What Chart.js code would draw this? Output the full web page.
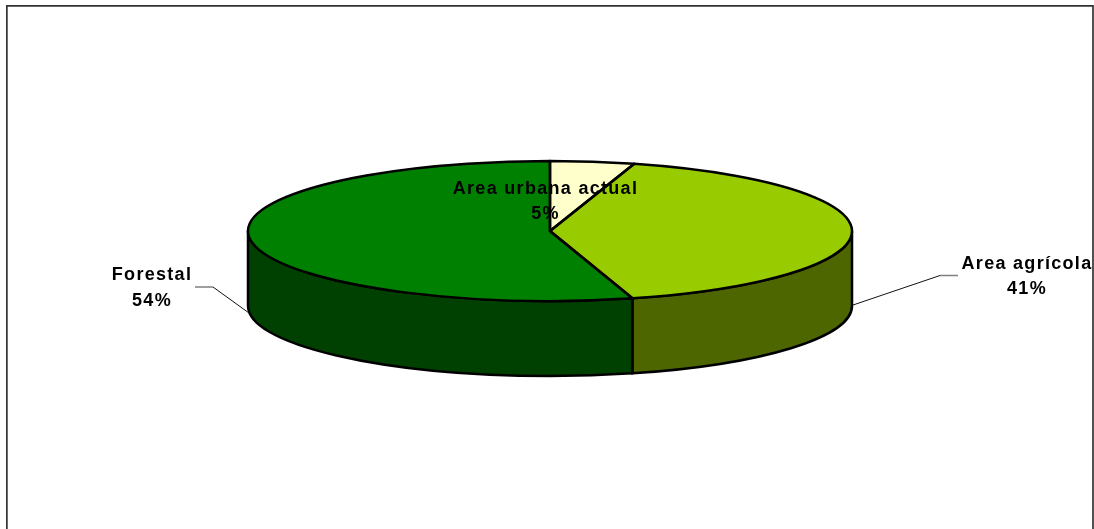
<!DOCTYPE html>
<html>
<head>
<meta charset="utf-8">
<title>Uso del suelo</title>
<style>
  html, body { margin: 0; padding: 0; background: #fff; overflow: hidden; }
  canvas { display: block; }
</style>
<script src="https://cdn.jsdelivr.net/npm/chart.js@4/dist/chart.umd.min.js"></script>
</head>
<body>
<canvas id="chartUso" width="1094" height="529"></canvas>
<script>
// Datos
const categories = ['Area urbana actual', 'Area agrícola', 'Forestal'];
const values = [4.5, 41.1, 54.4];

const topColors = ['#FFFFCC', '#99CC00', '#008000'];
const sideColors = ['#808066', '#4D6600', '#004000'];

const SQUASH = 70 / 302; // alto/ancho de la elipse
const DEPTH = 75;
const FONT = 'bold 18px "Liberation Sans", Arial, sans-serif';

function outlineTop(ctx, arc) {
    const ry = arc.outerRadius * SQUASH;
    ctx.beginPath();
    ctx.moveTo(arc.x, arc.y);
    ctx.ellipse(arc.x, arc.y, arc.outerRadius, ry, 0, arc.startAngle, arc.endAngle);
    ctx.closePath();
    ctx.stroke();
}

// Parte frontal del cilindro, a partir de los angulos de cada arco
function drawWall(ctx, arc, color) {
    const a = Math.max(arc.startAngle, 0);
    const b = Math.min(arc.endAngle, Math.PI);
    if (b <= a) return;
    const ry = arc.outerRadius * SQUASH;
    ctx.beginPath();
    ctx.ellipse(arc.x, arc.y, arc.outerRadius, ry, 0, a, b);
    ctx.ellipse(arc.x, arc.y + DEPTH, arc.outerRadius, ry, 0, b, a, true);
    ctx.closePath();
    ctx.fillStyle = color;
    ctx.fill();
    ctx.stroke();
}

function label(ctx, text, x, y) {
    ctx.fillText(text, x, y);
}

const pie3d = {
    id: 'pie3d',
    beforeDraw(chart) {
        const ctx = chart.ctx;
        // marco del grafico (sin borde inferior)
        ctx.save();
        ctx.strokeStyle = '#333';
        ctx.lineWidth = 1.7;
        ctx.beginPath();
        ctx.moveTo(6.85, 529);
        ctx.lineTo(6.85, 5.85);
        ctx.lineTo(1093, 5.85);
        ctx.lineTo(1093, 529);
        ctx.stroke();
        ctx.restore();
    },
    beforeDatasetsDraw(chart) {
        const ctx = chart.ctx;
        const arcs = chart.getDatasetMeta(0).data;
        ctx.save();
        ctx.strokeStyle = '#000';
        ctx.lineWidth = 2.5;
        arcs.forEach((arc, i) => drawWall(ctx, arc, sideColors[i]));
        ctx.restore();
        // aplasta el pastel en una elipse
        ctx.save();
        ctx.translate(arcs[0].x, arcs[0].y);
        ctx.scale(1, SQUASH);
        ctx.translate(-arcs[0].x, -arcs[0].y);
    },
    afterDatasetsDraw(chart) {
        const ctx = chart.ctx;
        ctx.restore();
        ctx.save();
        ctx.strokeStyle = '#000';
        ctx.lineWidth = 2.5;
        ctx.lineJoin = 'round';
        chart.getDatasetMeta(0).data.forEach(arc => outlineTop(ctx, arc));
        ctx.restore();
    },
    afterDraw(chart) {
        const ctx = chart.ctx;
        ctx.save();
        // lineas guia
        ctx.lineWidth = 1.5;
        ctx.strokeStyle = '#808080';
        ctx.beginPath();
        ctx.moveTo(195, 287);
        ctx.lineTo(213, 287);
        ctx.moveTo(940, 275.5);
        ctx.lineTo(958, 275.5);
        ctx.stroke();
        ctx.lineWidth = 1;
        ctx.strokeStyle = '#111';
        ctx.beginPath();
        ctx.moveTo(213, 287);
        ctx.lineTo(249, 313);
        ctx.moveTo(940, 275.5);
        ctx.lineTo(853, 305);
        ctx.stroke();

        ctx.fillStyle = '#000';
        ctx.font = FONT;
        ctx.letterSpacing = '1.3px';
        ctx.textAlign = 'center';
        ctx.textBaseline = 'middle';
        const pct = values.map(v => Math.round(v) + '%');
        label(ctx, categories[0], 545.5, 189);
        label(ctx, pct[0], 545.5, 214);
        label(ctx, categories[1], 1027, 264);
        label(ctx, pct[1], 1027, 289);
        label(ctx, categories[2], 152, 275);
        label(ctx, pct[2], 152, 301);
        ctx.restore();
    }
};

new Chart(document.getElementById('chartUso'), {
    type: 'pie',
    data: {
        labels: categories,
        datasets: [{
            data: values,
            backgroundColor: topColors,
            borderWidth: 0,
            clip: false
        }]
    },
    options: {
        responsive: false,
        animation: false,
        radius: 302,
        layout: { padding: { left: 6, right: 0, top: 0, bottom: 67 } },
        plugins: { legend: { display: false }, tooltip: { enabled: false } }
    },
    plugins: [pie3d]
});
</script>
</body>
</html>
